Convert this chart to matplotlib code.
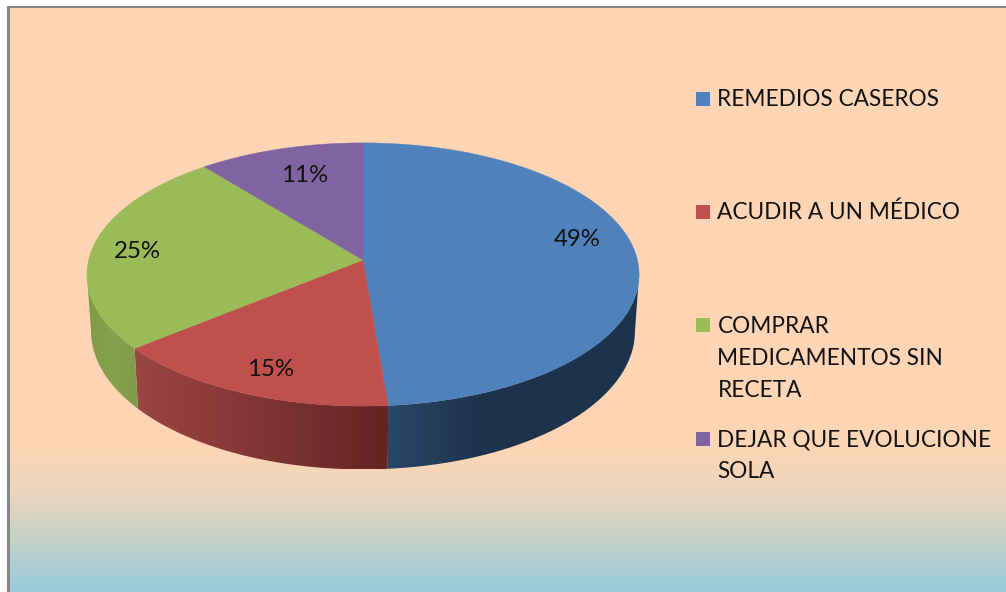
import numpy as np
import matplotlib
matplotlib.use("Agg")
import matplotlib.pyplot as plt
from matplotlib.patches import Polygon, Rectangle
from matplotlib.colors import LinearSegmentedColormap

categories = ["REMEDIOS CASEROS", "ACUDIR A UN MÉDICO",
              "COMPRAR\nMEDICAMENTOS SIN\nRECETA", "DEJAR QUE EVOLUCIONE\nSOLA"]
values = [48.7, 15.4, 25.1, 10.8]
percent_labels = [f"{round(v)}%" for v in values]

colors = ["#4f81bd", "#c0504d", "#9bbb59", "#8064a2"]
wall_stops = [[(0, "#1d324c"), (0.62, "#1d324c"), (1, "#294768")],
              [(0, "#9a4643"), (0.33, "#8a3a38"), (0.66, "#763030"), (1, "#632422")],
              [(0, "#7f9b4a"), (0.5, "#86a24f"), (1, "#7f9a4a")],
              [(0, "#5f4a7a"), (1, "#5f4a7a")]]
label_xy = [(577, 240), (271, 370), (137, 251), (305, 176)]
legend_y = [106, 219, 332, 446]
LINE_PX = 32.5

plt.rcParams["font.family"] = ["Lato", "DejaVu Sans"]
fig = plt.figure(figsize=(10.06, 5.92), dpi=100, facecolor="white")
ax = fig.add_axes([0, 0, 1, 1])
ax.axis("off")

# background
bg = LinearSegmentedColormap.from_list("bg", [(0, "#fdd5b5"), (0.60, "#fdd5b5"),
                                              (0.72, "#ecd6bc"), (0.85, "#c5d2c9"),
                                              (1, "#98cbdc")])
grad = np.concatenate([np.zeros(450 - 8), np.linspace(0.6, 1, 592 - 450)])[:, None]
ax.imshow(grad, cmap=bg, vmin=0, vmax=1, extent=(10, 1006, 592, 8), aspect="auto", zorder=0)
ax.add_patch(Rectangle((7, 6), 999, 2.4, fc="#868686", ec="none", zorder=1))
ax.add_patch(Rectangle((7, 6), 3, 586, fc="#868686", ec="none", zorder=1))

CX, CY, A, B, K = 363.0, 260.0, 274.4, 130.0, 0.11
WALL_S, WALL_D, WALL_XS = 1.05, 56.0, 0.985
# Silhouette: the wall is visible only between the two extreme rim points
FRONT_START = np.arccos(-K)
FRONT_END = 2 * np.pi - FRONT_START


def rim(theta):
    ux, uy = np.sin(theta), np.cos(theta)
    d = 1 + K * uy
    return A * ux / d, -B * uy / d


def top_xy(theta):
    x, y = rim(theta)
    return CX + x, CY + y


def bottom_xy(theta):
    x, y = rim(theta)
    return CX + x * WALL_XS, CY + WALL_D + y * WALL_S


edges = np.cumsum([0] + values) / sum(values) * 2 * np.pi
for i in range(len(values)):
    a0, a1 = max(edges[i], FRONT_START), min(edges[i + 1], FRONT_END)
    if a1 <= a0:
        continue
    th = np.linspace(a0, a1, 200)
    tx, ty = top_xy(th)
    bx, by = bottom_xy(th)
    verts = np.column_stack([np.r_[tx, bx[::-1]], np.r_[ty, by[::-1]]])
    poly = Polygon(verts, closed=True, fc="none", ec="none", transform=ax.transData)
    ax.add_patch(poly)
    cm = LinearSegmentedColormap.from_list(f"w{i}", wall_stops[i])
    x0, x1 = verts[:, 0].min(), verts[:, 0].max()
    y0, y1 = verts[:, 1].min(), verts[:, 1].max()
    g = np.linspace(0, 1, 256)[None, :]
    if i == 0:
        g = g[:, ::-1]
    im = ax.imshow(g, cmap=cm, vmin=0, vmax=1, extent=(x0, x1, y1, y0), aspect="auto", zorder=2)
    im.set_clip_path(poly)

for i in range(len(values)):
    th = np.linspace(edges[i], edges[i + 1], 300)
    tx, ty = top_xy(th)
    ax.add_patch(Polygon(np.column_stack([np.r_[CX, tx], np.r_[CY, ty]]), closed=True,
                         fc=colors[i], ec=colors[i], lw=0.3, zorder=3))
    ax.text(*label_xy[i], percent_labels[i], ha="center", va="center", fontsize=17.3,
            color="#111111", zorder=4)

for i, cat in enumerate(categories):
    y = legend_y[i]
    n_extra = cat.count("\n")
    ax.add_patch(Rectangle((696.5, y - 14), 14, 14, fc=colors[i], ec="none", zorder=3))
    ax.text(717.5, y + n_extra * LINE_PX, cat, ha="left", va="baseline", fontsize=16.3,
            color="#111111", linespacing=1.66, zorder=4)

ax.set_xlim(0, 1006)
ax.set_ylim(592, 0)
fig.savefig("out.png", dpi=100, facecolor="white")
